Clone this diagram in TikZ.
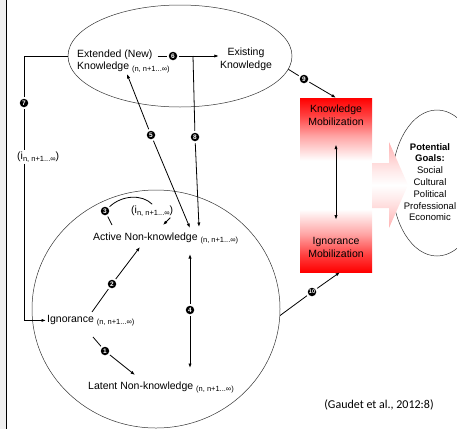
\documentclass[tikz,border=0pt]{standalone}
\usepackage{fontspec}
\setmainfont{Liberation Sans}
\newfontfamily\citefont{Carlito}
\usetikzlibrary{arrows.meta}
\usetikzlibrary{shapes.geometric}
\usetikzlibrary{calc}
\tikzstyle{StageNode}=[inner sep=1pt, font=\fontsize{10.5}{13}\selectfont]
\tikzstyle{FieldNode}=[ellipse, draw=black!80, line width=0.5pt]
\tikzstyle{NumNode}=[circle, fill=black, text=white, inner sep=0.3pt, minimum size=8.5pt, outer sep=2pt, font=\fontsize{6.5}{6.5}\selectfont\bfseries]
\tikzstyle{Link}=[line width=0.8pt]
\tikzstyle{LinkArrow}=[Link, ->]
\tikzstyle{LinkBoth}=[Link, <->]
\tikzset{>={Latex[length=4.5pt,width=3.2pt]}}
\pgfdeclareverticalshading{MobShade}{100bp}{color(0bp)=(red); color(25bp)=(red); color(30bp)=(red!75); color(36bp)=(red!35); color(43bp)=(white); color(57bp)=(white); color(64bp)=(red!35); color(70bp)=(red!75); color(75bp)=(red); color(100bp)=(red)}
\pgfdeclareverticalshading{GoalShade}{100bp}{color(0bp)=(red!30); color(25bp)=(red!30); color(42bp)=(red!8); color(50bp)=(white); color(58bp)=(red!8); color(75bp)=(red!30); color(100bp)=(red!30)}
\newcommand{\lowsub}[1]{{\fontsize{7.5}{8}\selectfont\raisebox{-2.5pt}{#1}}}
\newcommand{\nrange}{n, n+1...∞}

\begin{document}
\begin{tikzpicture}[x=1pt, y=-1pt]
\useasboundingbox (0,0) rectangle (457,429);
% page edge
\fill[black!6] (0,0) rectangle (5.5,429);
\draw[line width=1.2pt] (6.5,0) -- (6.5,429);

% fields
\node[FieldNode, minimum width=224pt, minimum height=102pt](TOP) at (180,56) {};
\node[FieldNode, minimum width=248pt, minimum height=238pt](BOT) at (156,309) {};
\node[FieldNode, minimum width=90pt, minimum height=146pt](GOAL) at (437,183) {};

% mobilization box and goal arrow
\node[shade, shading=MobShade, minimum width=72pt, minimum height=174pt](MOB) at (336,185) {};
\shade[shading=GoalShade] (372,163) -- (389,163) -- (389,142) -- (408,185) -- (389,228) -- (389,208) -- (372,208) -- cycle;

% texts
\node[StageNode, anchor=base west](EXT) at (76,57) {Extended (New)};
\node[StageNode, anchor=base west](EXTK) at (76,69) {Knowledge \lowsub{(\nrange)}};
\node[StageNode, align=center](EXI) at (246,59) {Existing\\Knowledge};
\node[StageNode, align=center](KNM) at (336,115) {Knowledge\\Mobilization};
\node[StageNode, align=center](IGM) at (336,247) {Ignorance\\Mobilization};
\node[StageNode, anchor=base west](ACT) at (92,240) {Active Non-knowledge \lowsub{(\nrange)}};
\node[StageNode, anchor=base west](IGN) at (46,322) {Ignorance \lowsub{(\nrange)}};
\node[StageNode, anchor=base west](LAT) at (87,389) {Latent Non-knowledge \lowsub{(\nrange)}};
\node[StageNode, anchor=base west](IDX3) at (130,213) {(i\lowsub{\nrange})};
\node[StageNode, anchor=base west](IDX7) at (16,159) {(i\lowsub{\nrange})};
\node[align=center, font=\fontsize{9.5}{11.8}\selectfont](GOALTXT) at (430,182) {\textbf{Potential}\\\textbf{Goals:}\\Social\\Cultural\\Political\\Professional\\Economic};
\node[font=\citefont\fontsize{12}{14}\selectfont](CITE) at (379,405) {(Gaudet et al., 2012:8)};

% step numbers
\node[NumNode](N1) at (105,351) {1};
\node[NumNode](N2) at (112,284) {2};
\node[NumNode](N3) at (105,211) {3};
\node[NumNode](N4) at (190,310) {4};
\node[NumNode](N5) at (151,135) {5};
\node[NumNode](N6) at (173,56) {6};
\node[NumNode](N7) at (24,103) {7};
\node[NumNode](N8) at (195,137) {8};
\node[NumNode](N9) at (304,79) {9};
\node[NumNode, font=\fontsize{5.5}{5.5}\selectfont\bfseries](N10) at (312,292) {10};
\coordinate (FORK) at (193,56);

% connectors
\draw[Link] ([shift={(47,15)}]IGN.base west) -- (N1);
\draw[LinkArrow] (N1) -- ([shift={(48,-14)}]LAT.base west);
\draw[Link] ([shift={(46,-10)}]IGN.base west) -- (N2);
\draw[LinkArrow] (N2) -- ([shift={(48,7)}]ACT.base west);
\draw[Link] ([shift={(20,-15)}]ACT.base west) -- (N3);
\draw[Link] (N3) .. controls (122,195) and (142,194) .. (IDX3.north);
\draw[LinkArrow] ([xshift=-4pt]IDX3.south east) -- ([shift={(71,-15)}]ACT.base west);
\draw[Link, <-] ([shift={(98,14)}]ACT.base west) -- (N4);
\draw[LinkArrow] (N4) -- ([shift={(103,-21)}]LAT.base west);
\draw[LinkArrow] (N5) -- ([shift={(51,5)}]EXTK.base west);
\draw[LinkArrow] (N5) -- ([shift={(98,-12)}]ACT.base west);
\draw[Link, shorten <=4pt] (EXT.east |- N6) -- (N6);
\draw[LinkArrow] (N6) -- (N6 -| EXI.west);
\draw[Link] (TOP.west) -| (N7);
\draw[Link] (N7) -- (N7 |- IDX7.north);
\draw[LinkArrow] (N7 |- IDX7.south) |- (IGN.west);
\draw[Link] (FORK) -- (N8);
\draw[LinkArrow] (N8) -- ([shift={(107,-13)}]ACT.base west);
\draw[Link] (TOP.-7) -- (N9);
\draw[LinkArrow] (N9) -- (MOB.north);
\draw[Link] (BOT.-3) -- (N10);
\draw[LinkArrow] (N10) -- ([xshift=4pt]MOB.south);
\draw[LinkBoth, shorten <=18pt, shorten >=16pt] (KNM) -- (IGM);
\end{tikzpicture}
\end{document}
